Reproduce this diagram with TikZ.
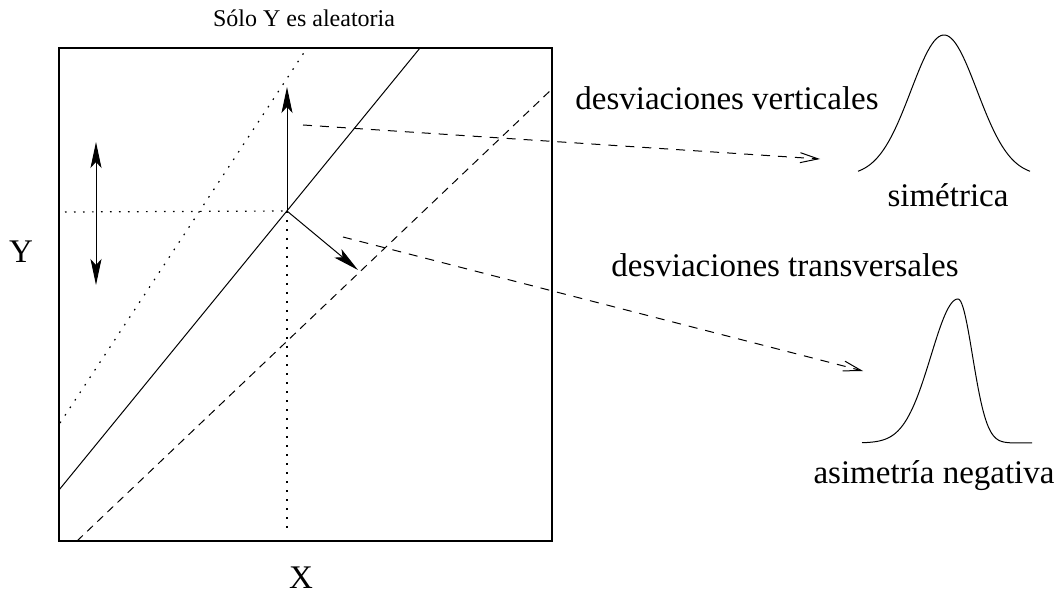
\documentclass[tikz,border=0pt]{standalone}
\usepackage{fontspec}
\setmainfont{Liberation Serif}
\usetikzlibrary{arrows.meta}

\tikzset{
    lbl/.style={font=\fontsize{16.5}{19}\selectfont, inner sep=0pt, anchor=base},
    ttl/.style={font=\fontsize{12}{14}\selectfont, inner sep=0pt, anchor=base},
    dotline/.style={line width=0.6pt, dash pattern=on 0.8pt off 3.7pt},
    dashline/.style={line width=0.5pt, dash pattern=on 4pt off 3pt},
    devarrow/.style={line width=0.5pt, -{Stealth[length=13pt,width=5.5pt,inset=3pt]}},
    maparrow/.style={line width=0.5pt, dash pattern=on 4.5pt off 4pt, -{Straight Barb[length=9pt,width=5pt]}}
}

\begin{document}
\begin{tikzpicture}[x=0.5pt,y=-0.5pt]
    \useasboundingbox (0,0) rectangle (1060,593);

    % box
    \draw[line width=0.8pt] (59,48) rectangle (552,541);
    \node[ttl] (title) at (304,27) {Sólo Y es aleatoria};
    \node[lbl] (xlab) at (301,588) {X};
    \node[lbl] (ylab) at (21,263) {Y};

    % regression lines
    \draw[line width=0.5pt] (59,490) -- (420,48);
    \draw[dotline] (60,423) -- (307,48);
    \draw[dashline] (77,541) -- (552,89);

    % point on the line
    \coordinate (p) at (287,211);
    \coordinate (ptop) at (287,87);
    \coordinate (pdiag) at (358,270);
    \draw[dotline] (65,212) -- (p);
    \draw[dotline] (p) -- (287,530);

    % deviations
    \draw[devarrow] (p) -- (ptop);
    \draw[devarrow] (p) -- (pdiag);
    \coordinate (vtop) at (96,142);
    \coordinate (vbot) at (96,285);
    \draw[line width=0.5pt, {Stealth[length=13pt,width=5.5pt,inset=3pt]}-{Stealth[length=13pt,width=5.5pt,inset=3pt]}] (vtop) -- (vbot);

    % labels
    \node[lbl] (vert) at (727,110) {desviaciones verticales};
    \node[lbl] (sim) at (948,207) {simétrica};
    \node[lbl] (trans) at (785,277) {desviaciones transversales};
    \node[lbl] (asim) at (934,483) {asimetría negativa};

    % dashed pointers
    \coordinate (vstart) at (303,125);
    \coordinate (vend) at (820,159);
    \coordinate (tstart) at (343,237);
    \coordinate (tend) at (863,371);
    \draw[maparrow] (vstart) -- (vend);
    \draw[maparrow] (tstart) -- (tend);

    % symmetric density
    \draw[line width=0.5pt] plot[domain=858:1030, samples=80]
        ({\x},{176-141*exp(-((\x-944)/33)^2/2)});

    % skewed density
    \draw[line width=0.5pt] plot[domain=862:958, samples=60]
        ({\x},{443-144*exp(-((\x-958)/27)^2/2)})
        -- plot[domain=958:1032, samples=60]
        ({\x},{443-144*exp(-((\x-958)/14.5)^2/2)});
\end{tikzpicture}
\end{document}
